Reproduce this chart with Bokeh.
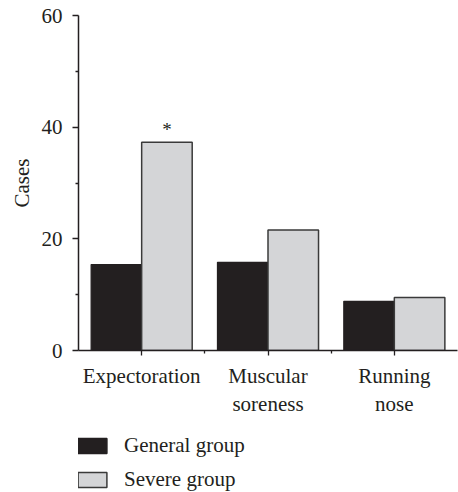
from bokeh.plotting import figure
from bokeh.layouts import column
from bokeh.models import ColumnDataSource, FixedTicker, Range1d, Legend, LegendItem
from bokeh.core.properties import value
from bokeh.embed import file_html
from bokeh.resources import INLINE

categories = ["Expectoration", "Muscular\nsoreness", "Running\nnose"]
groups = ["General group", "Severe group"]
general = [15.4, 15.8, 8.8]
severe = [37.3, 21.6, 9.5]
marks = ["*", "", ""]
y_ticks = [0, 20, 40, 60]
y_minor = [10, 30, 50]

FONT = "Liberation Serif"
INK = "#231f20"
FILLS = [INK, "#d4d5d7"]
LINES = [INK, "#3a3a3a"]

centers = [i + 0.5 for i in range(len(categories))]
src = ColumnDataSource(dict(
    xg=[c - 0.2 for c in centers],
    xs=[c + 0.2 for c in centers],
    general=general, severe=severe, marks=marks,
))

p = figure(width=458, height=420, output_backend="svg", toolbar_location=None,
           x_range=Range1d(0, len(categories)), y_range=Range1d(0, 60),
           min_border_left=78, min_border_top=15, min_border_right=1, min_border_bottom=70)
p.outline_line_color = None
p.grid.visible = False
p.background_fill_color = None
p.border_fill_color = "white"

p.vbar(x="xg", top="general", width=0.4, source=src, fill_color=FILLS[0],
       line_color=LINES[0], line_width=1.2)
p.vbar(x="xs", top="severe", width=0.4, source=src, fill_color=FILLS[1],
       line_color=LINES[1], line_width=1.5)
p.text(x="xs", y="severe", text="marks", source=src, text_align="center",
       text_baseline="bottom", y_offset=-2, text_font=value(FONT),
       text_font_size="19px", text_color=INK)

xa = p.xaxis[0]
xa.ticker = FixedTicker(ticks=centers, minor_ticks=[1, 2])
xa.major_label_overrides = {c: lab for c, lab in zip(centers, categories)}
ya = p.yaxis[0]
ya.ticker = FixedTicker(ticks=y_ticks, minor_ticks=y_minor)
ya.axis_label = "Cases"
for ax in (xa, ya):
    ax.axis_line_color = INK
    ax.axis_line_width = 1.5
    ax.major_tick_line_color = INK
    ax.minor_tick_line_color = INK
    ax.major_tick_line_width = 1.3
    ax.minor_tick_line_width = 1.3
    ax.major_tick_in = 0
    ax.minor_tick_in = 0
    ax.major_label_text_font = FONT
    ax.major_label_text_font_size = "21px"
    ax.major_label_text_color = INK
    ax.axis_label_text_font = FONT
    ax.axis_label_text_font_size = "21px"
    ax.axis_label_text_font_style = "normal"
    ax.axis_label_text_color = INK
xa.major_tick_out = 5
xa.minor_tick_out = 3
xa.major_label_standoff = 8
ya.major_tick_out = 6
ya.minor_tick_out = 3
ya.major_label_standoff = 10
ya.axis_label_standoff = 5

# legend panel (renderers share the bar data, hidden; only their legend swatches show)
lf = figure(width=458, height=72, output_backend="svg", toolbar_location=None,
            x_range=Range1d(0, 1), y_range=Range1d(0, 1),
            x_axis_location=None, y_axis_location=None, min_border=0)
lf.grid.visible = False
lf.outline_line_color = None
lf.border_fill_color = "white"
items = []
for g, col, fc, lc in zip(groups, ["general", "severe"], FILLS, LINES):
    r = lf.vbar(x="xg", top=col, width=0.4, source=src, fill_color=fc,
                line_color=lc, line_width=1.5, visible=False)
    items.append(LegendItem(label=g, renderers=[r]))
legend = Legend(items=items, location=(-4, 0), orientation="vertical",
                glyph_width=36, glyph_height=19, label_height=19,
                spacing=9, label_standoff=14, padding=0, margin=0,
                border_line_color=None, background_fill_alpha=0,
                inactive_fill_alpha=0,
                label_text_font=FONT, label_text_font_size="21px",
                label_text_color=INK)
lf.add_layout(legend)

with open("out.html", "w") as f:
    f.write(file_html(column(p, lf, spacing=0), INLINE))
